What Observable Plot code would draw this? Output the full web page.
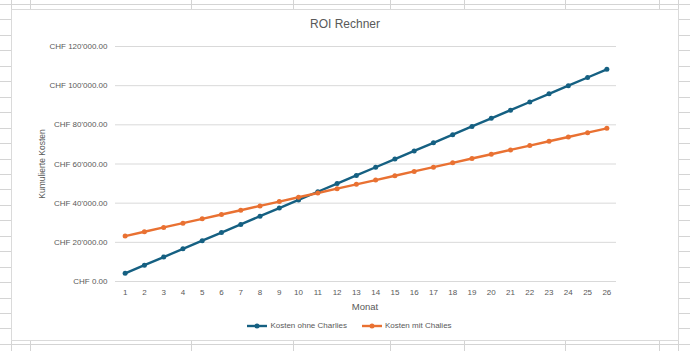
<!DOCTYPE html>
<html>
<head>
<meta charset="utf-8">
<script src="https://cdn.jsdelivr.net/npm/d3@7"></script>
<script src="https://cdn.jsdelivr.net/npm/@observablehq/plot@0.6"></script>
<style>
  html, body { margin: 0; padding: 0; background: #fff; }
  body { width: 690px; height: 351px; position: relative; overflow: hidden; font-family: "Liberation Sans", Arial, sans-serif; color: #595959; }
  .gl { position: absolute; background: #d4d4d4; }
  #box { position: absolute; left: 11px; top: 9px; width: 666px; height: 330px; background: #fff; border: 1px solid #dadada; }
  #title { position: absolute; left: 11px; width: 668px; top: 17px; text-align: center; font-size: 12px; color: #595959; }
  #ylab { position: absolute; left: 42px; top: 164px; transform: translate(-50%, -50%) rotate(-90deg); font-size: 8.5px; white-space: nowrap; color: #595959; }
  #xlab { position: absolute; left: 365px; top: 301px; transform: translateX(-50%); font-size: 9.5px; color: #595959; }
  #chart { position: absolute; left: 11px; top: 36px; }
  #legend { position: absolute; left: 0; width: 690px; top: 321px; display: flex; justify-content: center; gap: 14px; font-size: 8px; color: #595959; padding-left: 8px; box-sizing: border-box; }
  .li { display: flex; align-items: center; gap: 2px; }
</style>
</head>
<body>
<div id="bg"></div>
<div id="box"></div>
<div id="title">ROI Rechner</div>
<div id="ylab">Kumulierte Kosten</div>
<div id="chart"></div>
<div id="xlab">Monat</div>
<div id="legend"></div>
<script>
// ---- data ----
const months = [1,2,3,4,5,6,7,8,9,10,11,12,13,14,15,16,17,18,19,20,21,22,23,24,25,26];
const kostenOhne = [4167,8333,12500,16667,20833,25000,29167,33333,37500,41667,45833,50000,54167,58333,62500,66667,70833,75000,79167,83333,87500,91667,95833,100000,104167,108333];
const kostenMit = [23200,25400,27600,29800,32000,34200,36400,38600,40800,43000,45200,47400,49600,51800,54000,56200,58400,60600,62800,65000,67200,69400,71600,73800,76000,78200];
const seriesNames = ["Kosten ohne Charlies", "Kosten mit Chalies"];
const yTicks = [0,20000,40000,60000,80000,100000,120000];
const colors = ["#156082", "#E97132"];

// ---- spreadsheet background ----
const bg = document.getElementById("bg");
for (let k = 0; k <= 22; k++) {
  const d = document.createElement("div");
  d.className = "gl";
  d.style.cssText = `left:0;width:690px;top:${Math.round(4 + 15.45*k)}px;height:1px;`;
  bg.appendChild(d);
}
[11,30,191,293,390,464,565,659,678].forEach(x => {
  const d = document.createElement("div");
  d.className = "gl";
  d.style.cssText = `left:${x}px;width:1px;top:0;height:351px;`;
  bg.appendChild(d);
});

// ---- chart ----
const data = [];
months.forEach((m, i) => {
  data.push({month: m, value: kostenOhne[i], series: seriesNames[0]});
  data.push({month: m, value: kostenMit[i], series: seriesNames[1]});
});

const loc = d3.formatLocale({decimal: ".", thousands: "'", grouping: [3], currency: ["CHF ", ""]});
const fmt = loc.format("$,.2f");

const chart = Plot.plot({
  width: 668,
  height: 264,
  marginLeft: 104,
  marginRight: 63,
  marginTop: 10,
  marginBottom: 19,
  style: {fontFamily: "'Liberation Sans', Arial, sans-serif", fontSize: "8px", color: "#595959", background: "transparent"},
  x: {type: "point", domain: months, padding: 0.5, round: false},
  y: {domain: [0, 120000]},
  color: {domain: seriesNames, range: colors},
  marks: [
    Plot.ruleY(yTicks, {stroke: "#d9d9d9", strokeWidth: 1}),
    Plot.axisX({tickSize: 0, tickPadding: 8, label: null, fill: "#595959"}),
    Plot.axisY({ticks: yTicks, tickSize: 0, tickPadding: 8, tickFormat: fmt, label: null, fill: "#595959"}),
    Plot.line(data, {x: "month", y: "value", z: "series", stroke: "series", strokeWidth: 2.4}),
    Plot.dot(data, {x: "month", y: "value", fill: "series", r: 2.5})
  ]
});
document.getElementById("chart").appendChild(chart);

// ---- legend ----
const legend = document.getElementById("legend");
seriesNames.forEach((name, i) => {
  const item = document.createElement("div");
  item.className = "li";
  item.innerHTML = `<svg width="22" height="8"><line x1="1" x2="21" y1="4" y2="4" stroke="${colors[i]}" stroke-width="2.4"/><circle cx="11" cy="4" r="2.5" fill="${colors[i]}"/></svg><span>${name}</span>`;
  legend.appendChild(item);
});
</script>
</body>
</html>
